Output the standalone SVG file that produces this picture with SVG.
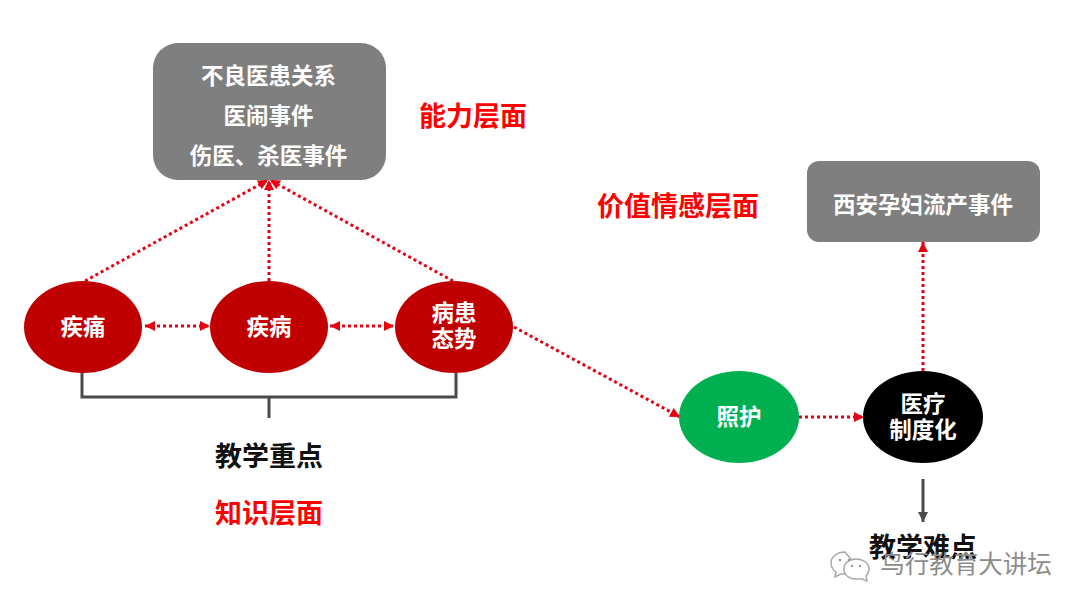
<svg xmlns="http://www.w3.org/2000/svg" width="1080" height="608" viewBox="0 0 1080 608">
<style>
text{font-family:"Noto Sans CJK SC","Noto Sans CJK JP",sans-serif;font-weight:700;text-anchor:middle}
.w{fill:#fff;font-size:22.5px}
.r{fill:#f00;font-size:27px}
.k{fill:#111;font-size:27px}
.dot{fill:none;stroke:#e60012;stroke-width:3;stroke-dasharray:3 3}
.line{fill:none;stroke:#4a4a4a;stroke-width:3}
.bub{fill:#fff;stroke:#a8a8a8;stroke-width:1.5}
</style>
<defs>
<marker id="ah" markerUnits="userSpaceOnUse" markerWidth="12" markerHeight="12" refX="10" refY="5" orient="auto-start-reverse"><path d="M0 0L10 5L0 10Z" fill="#e60012"/></marker>
<marker id="gh" markerUnits="userSpaceOnUse" markerWidth="12" markerHeight="12" refX="10" refY="5" orient="auto"><path d="M0 0L10 5L0 10Z" fill="#4a4a4a"/></marker>
</defs>
<rect width="1080" height="608" fill="#fff"/>
<g id="connectors">
<path class="dot" d="M85 281L268 180" marker-end="url(#ah)"/>
<path class="dot" d="M269 281V180" marker-end="url(#ah)"/>
<path class="dot" d="M453 281L270 180" marker-end="url(#ah)"/>
<path class="dot" d="M145 326H210" marker-start="url(#ah)" marker-end="url(#ah)"/>
<path class="dot" d="M330 326H394" marker-start="url(#ah)" marker-end="url(#ah)"/>
<path class="dot" d="M514 327L680 417" marker-end="url(#ah)"/>
<path class="dot" d="M799 417H864" marker-end="url(#ah)"/>
<path class="dot" d="M923 371V242" marker-end="url(#ah)"/>
<path class="line" d="M82 373V397H456V373M269 397V418"/>
<path class="line" d="M923 479V522" marker-end="url(#gh)"/>
</g>
<g id="n-top"><rect x="153" y="43" width="233" height="137" rx="25" fill="#7f7f7f"/>
<text class="w" x="268.5" y="84">不良医患关系</text><text class="w" x="268.5" y="124">医闹事件</text><text class="w" x="268.5" y="164">伤医、杀医事件</text></g>
<g id="n-xian"><rect x="807" y="161" width="233" height="81" rx="12" fill="#7f7f7f"/><text class="w" x="923" y="213">西安孕妇流产事件</text></g>
<g id="n-tengtong"><ellipse cx="83" cy="327" rx="59" ry="46" fill="#c00000"/><text class="w" x="83" y="335">疾痛</text></g>
<g id="n-jibing"><ellipse cx="269" cy="327" rx="59" ry="46" fill="#c00000"/><text class="w" x="269" y="335">疾病</text></g>
<g id="n-taishi"><ellipse cx="454" cy="327" rx="59" ry="46" fill="#c00000"/><text class="w" x="454" y="321">病患<tspan x="454" dy="26">态势</tspan></text></g>
<g id="n-zhaohu"><ellipse cx="739" cy="417" rx="60" ry="46" fill="#00b050"/><text class="w" x="739" y="425">照护</text></g>
<g id="n-zhidu"><ellipse cx="923" cy="417" rx="60" ry="46" fill="#000"/><text class="w" x="923" y="412">医疗<tspan x="923" dy="26">制度化</tspan></text></g>
<g id="labels">
<text class="r" x="473" y="126">能力层面</text>
<text class="r" x="678" y="216">价值情感层面</text>
<text class="r" x="269" y="523">知识层面</text>
<text class="k" x="269" y="466">教学重点</text>
<text class="k" x="923" y="557">教学难点</text>
</g>
<g id="watermark">
<path class="bub" d="M845 552c-8 0-14 5-14 11 0 4 2 7 5 9l-1 5 6-3 5 0 8-11z"/>
<path class="bub" d="M856 559c-7 0-12 4-12 10s5 10 12 10l6 0 5 2-1-5c2-2 3-4 3-7 0-6-6-10-13-10z"/>
<circle cx="840" cy="560" r="1.3" fill="#999"/><circle cx="849" cy="560" r="1.3" fill="#999"/>
<circle cx="852" cy="566" r="1.2" fill="#999"/><circle cx="860" cy="566" r="1.2" fill="#999"/>
<text x="966" y="573" style="font-size:24.5px;font-weight:400;fill:#8c8c8c">鸟行教育大讲坛</text>
</g>
</svg>
